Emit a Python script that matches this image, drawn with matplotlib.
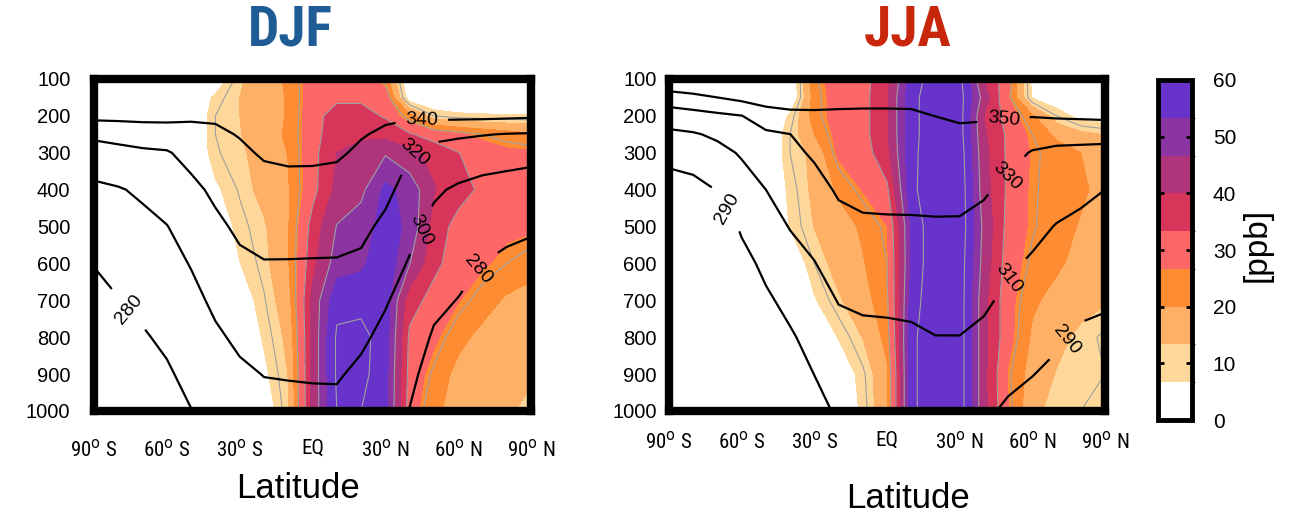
import numpy as np
import matplotlib
matplotlib.use('Agg')
import matplotlib.pyplot as plt
from matplotlib.colors import ListedColormap, BoundaryNorm
from matplotlib.cm import ScalarMappable

plt.rcParams['font.family'] = ['Liberation Sans', 'DejaVu Sans']
NARROW = ['Liberation Sans Narrow', 'Roboto Condensed', 'DejaVu Sans']

# grid: latitude (deg) and pressure (hPa)
LAT = [-90, -80, -70, -60, -50, -40, -30, -20, -10, 0, 10, 20, 30, 40, 50, 60, 70, 80, 90]
PLEV = [100, 150, 200, 250, 300, 400, 500, 600, 700, 800, 900, 1000]

# ozone [ppb], one row per pressure level (100 -> 1000 hPa), 90S -> 90N
DJF_O3 = [
    [0, 0, 0, 0, 0, 1, 12.5, 17, 21, 30, 31, 31, 23, 0, 0, 0, 0, 0, 0],
    [0, 0, 0, 0, 0, 8, 13.3, 17, 20.5, 30, 32, 32, 30, 2, 0, 0, 0, 0, 0],
    [0, 0, 0, 0, 0, 10, 13.3, 17, 20.5, 31, 36, 36, 32.5, 22, 10, 8, 7.5, 7.2, 7],
    [0, 0, 0, 0, 0, 10, 13, 17, 21, 31, 37, 38, 38, 34, 30, 27.5, 25, 23, 21],
    [0, 0, 0, 0, 0, 9.5, 12, 16.5, 20.2, 31, 40, 44, 46, 41.5, 38, 33.5, 30, 28, 27.5],
    [0, 0, 0, 0, 0, 5.5, 10.5, 15.5, 19.5, 31, 42, 45, 55, 51, 40.5, 36, 32, 30, 29],
    [0, 0, 0, 0, 0, 2, 8.5, 12.5, 19.5, 36, 47, 50, 56, 52, 37, 31, 29, 28, 27.5],
    [0, 0, 0, 0, 0, 0.5, 6.5, 11.5, 19.5, 38, 50, 52, 58, 47, 35, 30, 27.5, 25, 23],
    [0, 0, 0, 0, 0, 0, 2.5, 9.5, 17.5, 42, 58, 58, 57, 36, 31, 27, 23, 19, 17],
    [0, 0, 0, 0, 0, 0, 0, 7.5, 15, 42, 61, 62, 57, 32, 28, 22, 18, 16, 15],
    [0, 0, 0, 0, 0, 0, 0, 5, 13.5, 42, 61, 62, 56, 31, 24, 18, 16, 15, 14],
    [0, 0, 0, 0, 0, 0, 0, 2, 12.5, 42, 60, 60, 56, 30, 21, 18, 16, 14, 12],
]

JJA_O3 = [
    [0, 0, 0, 0, 0, 0, 24, 30, 31, 38, 56, 64, 62, 40, 29, 5, 2, 1, 0],
    [0, 0, 0, 0, 0, 0, 23, 30, 31, 39, 58, 64, 63, 44, 27, 6, 2, 1, 0.5],
    [0, 0, 0, 0, 0, 7.5, 23, 30, 31, 39, 58, 64, 63, 40, 30.5, 21, 10, 4, 3],
    [0, 0, 0, 0, 0, 10, 20, 29, 31, 39, 58, 64, 63, 41, 32, 25, 18.5, 15, 13],
    [0, 0, 0, 0, 0, 10, 15, 28, 30, 38, 58, 65, 64, 42, 32, 26, 23, 20, 18],
    [0, 0, 0, 0, 0, 8, 15, 21, 27, 32, 58, 66, 65, 43, 32, 25.5, 23.5, 21, 18],
    [0, 0, 0, 0, 0, 7, 13.5, 17, 21, 26.5, 54, 66, 65, 45, 31, 25.5, 22.5, 19.5, 18],
    [0, 0, 0, 0, 0, 1, 10, 16, 19.5, 25, 54, 66, 64, 44, 30, 24, 21, 18, 16],
    [0, 0, 0, 0, 0, 0, 6, 12.5, 17.5, 24, 56, 66, 64, 42, 29, 21, 18, 15.5, 14],
    [0, 0, 0, 0, 0, 0, 0, 7, 13.5, 22, 58, 66, 64, 42, 29, 19, 15, 12, 9],
    [0, 0, 0, 0, 0, 0, 0, 1.5, 9, 19, 58, 66, 64, 42, 26, 17, 13, 11, 10],
    [0, 0, 0, 0, 0, 0, 0, 0, 8, 19, 58, 66, 64, 42, 27, 15, 11, 10, 9],
]

# potential temperature [K], one column per latitude (100 -> 1000 hPa)
DJF_THETA = [
    [386.7, 365.8, 345.0, 324.2, 311.4, 296.3, 288.6, 280.8, 273.0, 265.2, 257.4, 249.7],
    [382.2, 363.7, 345.2, 326.7, 314.3, 298.7, 292.3, 285.8, 279.4, 272.9, 266.5, 260.0],
    [378.4, 362.0, 345.6, 329.2, 316.9, 302.8, 295.4, 289.7, 284.0, 278.3, 272.6, 266.9],
    [376.3, 360.9, 345.5, 330.2, 318.4, 308.7, 299.5, 294.1, 288.6, 283.2, 277.8, 272.4],
    [359.2, 350.9, 342.6, 334.4, 326.1, 315.4, 308.1, 300.9, 295.4, 290.1, 284.9, 279.6],
    [351.2, 346.6, 342.0, 337.4, 332.8, 323.7, 316.1, 309.7, 303.2, 297.5, 292.5, 287.5],
    [351.3, 347.8, 344.3, 340.8, 337.3, 330.3, 323.4, 316.5, 309.8, 303.0, 297.3, 292.3],
    [356.7, 352.9, 349.2, 345.4, 341.7, 334.1, 326.6, 319.2, 313.0, 306.8, 300.4, 295.4],
    [359.1, 355.1, 351.0, 347.0, 343.0, 334.9, 326.9, 319.1, 313.0, 307.0, 300.9, 295.8],
    [359.2, 355.2, 351.1, 347.0, 342.9, 334.8, 326.7, 318.9, 313.1, 307.2, 301.3, 296.1],
    [357.7, 353.8, 349.8, 345.9, 342.0, 334.1, 326.2, 318.8, 313.0, 307.2, 301.4, 296.3],
    [351.2, 347.8, 344.4, 341.0, 337.6, 330.8, 324.1, 317.1, 309.8, 302.5, 297.1, 292.6],
    [351.1, 346.7, 342.2, 337.8, 333.3, 324.4, 316.3, 308.8, 301.3, 296.3, 291.8, 287.3],
    [363.6, 353.0, 342.3, 331.7, 321.1, 312.8, 305.2, 298.5, 293.8, 289.0, 284.3, 279.5],
    [385.3, 364.9, 344.5, 324.1, 315.0, 302.5, 295.4, 289.6, 283.9, 278.1, 272.3, 266.6],
    [387.8, 366.1, 344.4, 322.6, 311.5, 297.6, 291.5, 285.5, 279.5, 273.4, 267.4, 261.3],
    [390.7, 367.4, 344.2, 320.9, 308.0, 294.9, 287.4, 279.9, 272.4, 264.9, 257.4, 249.9],
    [393.5, 368.5, 343.5, 319.2, 306.4, 293.5, 284.8, 276.1, 267.4, 258.7, 250.0, 241.3],
    [393.9, 368.2, 342.6, 318.4, 304.9, 292.2, 282.7, 273.1, 263.6, 254.1, 244.5, 235.0],
]

JJA_THETA = [
    [367.4, 341.1, 319.8, 306.1, 297.4, 279.8, 273.8, 267.8, 261.8, 255.8, 249.8, 243.8],
    [371.0, 344.7, 322.9, 308.3, 300.0, 283.3, 277.3, 271.3, 265.3, 259.3, 253.3, 247.3],
    [378.6, 350.0, 326.1, 313.1, 304.7, 290.7, 276.7, 270.7, 264.7, 258.7, 252.7, 246.7],
    [381.6, 355.3, 329.6, 320.7, 311.8, 301.8, 292.7, 283.6, 277.6, 271.6, 265.6, 259.6],
    [380.6, 360.2, 339.8, 327.0, 321.4, 310.0, 302.3, 294.6, 286.9, 280.9, 274.9, 268.9],
    [375.6, 360.2, 344.8, 329.8, 326.0, 318.4, 310.8, 303.1, 295.4, 287.7, 281.7, 275.7],
    [362.9, 355.2, 347.6, 340.0, 332.3, 323.8, 316.5, 309.4, 303.0, 296.6, 290.2, 283.8],
    [356.7, 352.6, 348.5, 344.4, 340.3, 332.1, 324.7, 317.7, 310.7, 304.6, 298.6, 292.6],
    [355.7, 352.1, 348.6, 345.1, 341.5, 334.5, 327.3, 320.0, 312.6, 306.2, 300.2, 294.2],
    [355.6, 352.1, 348.6, 345.1, 341.7, 334.7, 327.7, 320.4, 313.1, 306.5, 300.5, 294.5],
    [355.7, 352.2, 348.7, 345.3, 341.8, 334.8, 327.8, 320.8, 313.8, 307.3, 301.3, 295.3],
    [357.6, 353.9, 350.1, 346.4, 342.7, 335.2, 328.1, 322.0, 315.8, 309.7, 303.7, 297.7],
    [359.8, 355.7, 351.6, 347.6, 343.5, 335.4, 327.9, 322.0, 315.9, 309.7, 303.7, 297.7],
    [361.2, 356.3, 351.5, 346.6, 341.7, 331.9, 325.1, 318.9, 312.8, 306.3, 299.5, 292.7],
    [366.4, 358.8, 351.2, 343.6, 336.1, 326.0, 319.3, 312.7, 306.3, 300.0, 293.8, 287.5],
    [376.1, 363.4, 350.8, 338.1, 328.7, 321.7, 314.6, 307.9, 302.1, 296.2, 290.4, 284.4],
    [386.9, 369.7, 352.4, 335.2, 326.8, 317.7, 309.2, 303.5, 297.9, 292.3, 286.6, 281.0],
    [388.9, 371.1, 353.2, 335.4, 325.9, 314.1, 306.0, 299.9, 293.7, 287.5, 281.3, 275.2],
    [391.1, 372.6, 354.1, 335.6, 324.8, 310.0, 304.0, 298.0, 292.0, 286.0, 280.0, 274.0],
]

DJF_THETA_LEVELS = [280, 300, 320, 340]
JJA_THETA_LEVELS = [290, 310, 330, 350]

# where the isentrope labels go (lat, hPa)
DJF_LABEL_AT = [(-75, 720), (69, 620), (43, 505), (41, 285), (45, 203)]
JJA_LABEL_AT = [(-66, 450), (73, 800), (51, 645), (48, 352), (48, 206)]

O3_COLORS = ['#ffffff', '#fed89b', '#fdb066', '#fd8c33', '#fe6767',
             '#d8355a', '#b03479', '#8b34a2', '#6733cb']
O3_LEVELS = np.linspace(0, 60, 10)
GRAY_LEVELS = [10, 25, 33.3, 46.7, 60]
CBAR_TICKS = [0, 10, 20, 30, 40, 50, 60]

LAT_TICKS = [-90, -60, -30, 0, 30, 60, 90]
LAT_LABELS = ['90$^{\\rm o}$ S', '60$^{\\rm o}$ S', '30$^{\\rm o}$ S', 'EQ',
              '30$^{\\rm o}$ N', '60$^{\\rm o}$ N', '90$^{\\rm o}$ N']
P_TICKS = [100, 200, 300, 400, 500, 600, 700, 800, 900, 1000]

cmap = ListedColormap(O3_COLORS)
cmap.set_over(O3_COLORS[-1])
norm = BoundaryNorm(O3_LEVELS, cmap.N)


def draw_panel(ax, o3, theta, theta_levels, label_at, ypad, xpad):
    lat = np.array(LAT)
    p = np.array(PLEV)
    o3 = np.array(o3)
    th = np.array(theta).T
    ax.contourf(lat, p, o3, levels=O3_LEVELS, cmap=cmap, norm=norm, extend='max')
    ax.contour(lat, p, o3, levels=GRAY_LEVELS, colors='#a0a0a0', linewidths=0.8)
    cs = ax.contour(lat, p, th, levels=theta_levels, colors='k', linewidths=1.6)
    ax.clabel(cs, fmt='%d', fontsize=14, inline=True, inline_spacing=10,
              manual=label_at)
    ax.set_xlim(-90, 90)
    ax.set_ylim(1000, 100)
    ax.set_xticks(LAT_TICKS)
    ax.set_xticklabels(LAT_LABELS, fontfamily=NARROW, fontstretch='condensed',
                       fontsize=15)
    ax.set_yticks(P_TICKS)
    ax.tick_params(axis='y', length=0, pad=ypad, labelsize=14.5)
    ax.tick_params(axis='x', length=0, pad=xpad)
    for s in ax.spines.values():
        s.set_linewidth(6)
    ax.set_xlabel('Latitude', fontsize=25)


fig = plt.figure(figsize=(12.89, 5.15), dpi=100)
W, H = 1289, 515
ax1 = fig.add_axes([94 / W, 104 / H, 437 / W, 332 / H])
ax2 = fig.add_axes([669 / W, 104 / H, 436 / W, 332 / H])
cax = fig.add_axes([1158 / W, 95 / H, 34 / W, 340 / H])

draw_panel(ax1, DJF_O3, DJF_THETA, DJF_THETA_LEVELS, DJF_LABEL_AT, 17, 20)
draw_panel(ax2, JJA_O3, JJA_THETA, JJA_THETA_LEVELS, JJA_LABEL_AT, 9, 14)
ax1.xaxis.set_label_coords(0.467, -0.184)
ax2.xaxis.set_label_coords(0.548, -0.214)

fig.text(290 / W, 1 - 30 / H, 'DJF', ha='center', va='center', fontsize=40,
         fontweight='bold', fontstretch='condensed', color='#1f5b95', family=NARROW)
fig.text(908 / W, 1 - 30 / H, 'JJA', ha='center', va='center', fontsize=40,
         fontweight='bold', fontstretch='condensed', color='#c9270c', family=NARROW)

cb = fig.colorbar(ScalarMappable(norm=norm, cmap=cmap), cax=cax, ticks=CBAR_TICKS)
cb.outline.set_linewidth(3.5)
cax.tick_params(direction='in', length=4, width=2, left=True, right=True,
                labelsize=15, pad=15)
fig.text(1257 / W, 1 - 245 / H, '[ppb]', rotation=90, ha='center', va='center',
         fontsize=24)

fig.savefig('out.png', dpi=100)
